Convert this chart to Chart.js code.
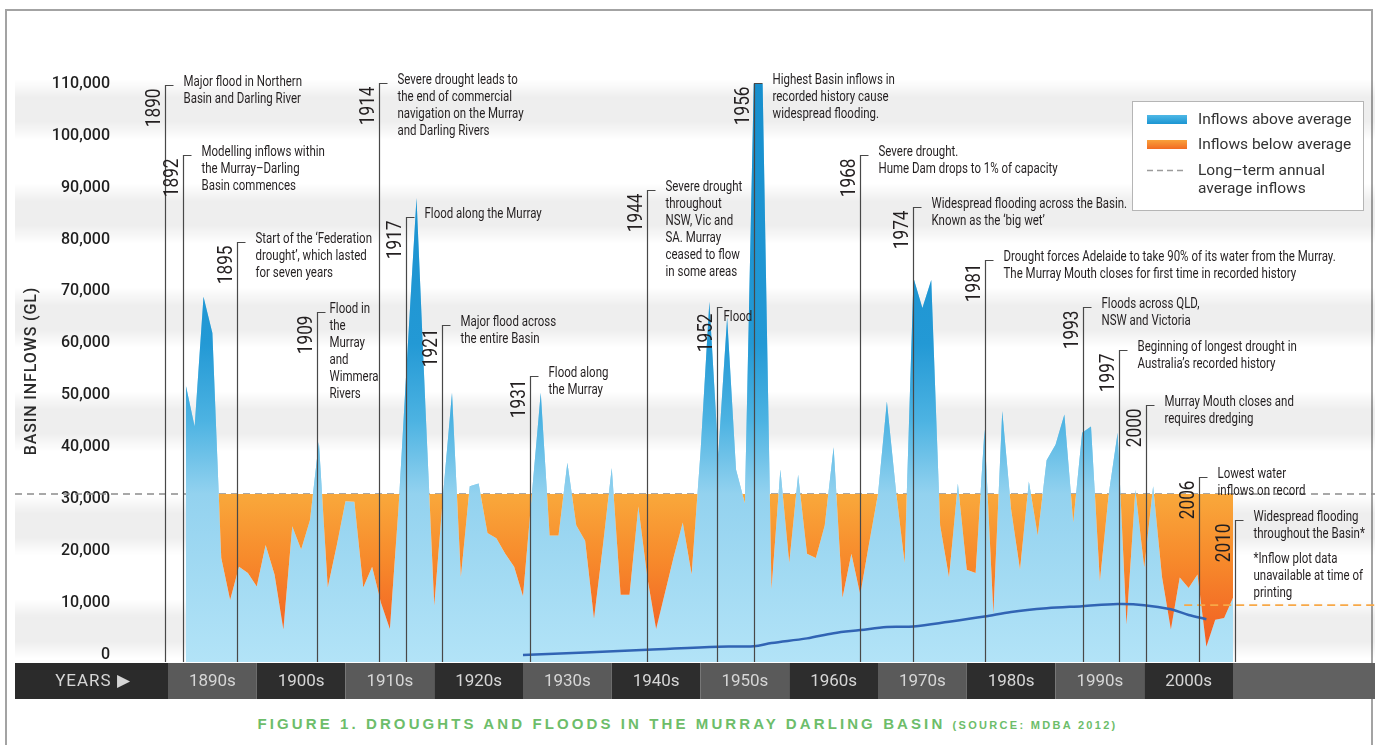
<!DOCTYPE html>
<html>
<head>
<meta charset="utf-8">
<title>Droughts and floods in the Murray Darling Basin</title>
<script src="https://cdn.jsdelivr.net/npm/chart.js@4.4.1/dist/chart.umd.min.js"></script>
<style>
  html, body { margin: 0; padding: 0; background: #fff; }
  body { width: 1375px; height: 745px; position: relative; overflow: hidden; }
  .frame { position: absolute; left: 5px; top: 9px; width: 1364px; height: 745px; border: 2px solid #a3a3a3; border-bottom: none; }
  #chart { position: absolute; left: 0; top: 0; }
  .caption { position: absolute; left: 0; top: 714px; width: 1375px; text-align: center; color: #6dbd6a;
    font: bold 15px "Liberation Sans", Arial, sans-serif; letter-spacing: 3.1px; line-height: 20px; }
  .caption small { font-size: 11px; letter-spacing: 2.3px; }
</style>
</head>
<body>
<div class="frame"></div>
<canvas id="chart" width="1375" height="700"></canvas>
<div class="caption">FIGURE 1. DROUGHTS AND FLOODS IN THE MURRAY DARLING BASIN <small>(SOURCE: MDBA 2012)</small></div>

<script>
// Basin inflows (GL), one value per year
const inflowYears = [
  1892, 1893, 1894, 1895, 1896, 1897, 1898, 1899,
  1900, 1901, 1902, 1903, 1904, 1905, 1906, 1907, 1908, 1909,
  1910, 1911, 1912, 1913, 1914, 1915, 1916, 1917, 1918, 1919,
  1920, 1921, 1922, 1923, 1924, 1925, 1926, 1927, 1928, 1929,
  1930, 1931, 1932, 1933, 1934, 1935, 1936, 1937, 1938, 1939,
  1940, 1941, 1942, 1943, 1944, 1945, 1946, 1947, 1948, 1949,
  1950, 1951, 1952, 1953, 1954, 1955, 1956, 1957, 1958, 1959,
  1960, 1961, 1962, 1963, 1964, 1965, 1966, 1967, 1968, 1969,
  1970, 1971, 1972, 1973, 1974, 1975, 1976, 1977, 1978, 1979,
  1980, 1981, 1982, 1983, 1984, 1985, 1986, 1987, 1988, 1989,
  1990, 1991, 1992, 1993, 1994, 1995, 1996, 1997, 1998, 1999,
  2000, 2001, 2002, 2003, 2004, 2005, 2006, 2007, 2008, 2009, 2010
];
const inflows = [
  52000, 44000, 69000, 62000, 18700, 10600, 17000, 15800,
  13200, 21200, 15500, 4900, 24800, 20300, 26000, 41000, 13000, 21000,
  29600, 29500, 13000, 17000, 10000, 5000, 29000, 59000, 88000, 48000,
  9500, 31000, 50500, 15000, 32500, 33000, 23500, 22500, 19500, 17000,
  11300, 31000, 50500, 23000, 23000, 37000, 25000, 22000, 7000, 21000,
  36000, 11600, 11600, 28600, 15000, 5000, 12000, 19000, 25500, 15500,
  39000, 68000, 38600, 65000, 35700, 29200, 110000, 110000, 12600, 35700,
  17700, 34700, 19500, 18700, 25000, 40000, 11000, 19500, 11600, 21500,
  31000, 48800, 32000, 17700, 72600, 66800, 72200, 25000, 14900, 33000,
  16400, 15800, 43400, 8000, 47000, 28000, 16400, 33400, 23000, 37500,
  40500, 46300, 25500, 42800, 44000, 14200, 31000, 42800, 5800, 31800,
  16800, 32500, 15000, 4900, 14900, 12900, 15500, 1600, 6800, 7100, 11000
];

// dark blue line along the bottom
const lowerYears = [1930, 1944, 1952, 1956, 1958, 1962, 1965, 1968, 1971, 1974,
  1978, 1982, 1985, 1989, 1993, 1997, 2000, 2003, 2005, 2007];
const lowerValues = [0, 1000, 1600, 1700, 2300, 3200, 4200, 4800, 5400, 5500,
  6400, 7400, 8300, 9000, 9400, 9800, 9600, 8800, 7700, 6900];

const avgInflow = 31000;
const recentLevel = 9600;
const recentFrom = 2004.5;

const yTicks = [0, 10000, 20000, 30000, 40000, 50000, 60000, 70000, 80000, 90000, 100000, 110000];
const decades = ['1890s', '1900s', '1910s', '1920s', '1930s', '1940s', '1950s', '1960s', '1970s', '1980s', '1990s', '2000s'];
const decadeStarts = [1890, 1900, 1910, 1920, 1930, 1940, 1950, 1960, 1970, 1980, 1990, 2000, 2010];

// events marked on the chart
const eventYears = ['1890', '1892', '1895', '1909', '1914', '1917', '1921', '1931', '1944', '1952',
  '1956', '1968', '1974', '1981', '1993', '1997', '2000', '2006', '2010'];
const eventAt = [1889.7, 1891.7, 1897.8, 1906.8, 1913.8, 1916.8, 1920.9, 1930.8, 1944, 1951.9,
  1956, 1968, 1973.9, 1982.1, 1993.1, 1997.2, 2000.2, 2006.2, 2010.2];
const eventTop = [109800, 96300, 79600, 66100, 110200, 84400, 63600, 53700, 89600, 67100,
  110200, 96300, 86300, 76100, 67100, 58800, 48200, 34300, 26000];
const eventText = [
  ['Major flood in Northern', 'Basin and Darling River'],
  ['Modelling inflows within', 'the Murray\u2013Darling', 'Basin commences'],
  ['Start of the \u2018Federation', 'drought\u2019, which lasted', 'for seven years'],
  ['Flood in', 'the', 'Murray', 'and', 'Wimmera', 'Rivers'],
  ['Severe drought leads to', 'the end of commercial', 'navigation on the Murray', 'and Darling Rivers'],
  ['Flood along the Murray'],
  ['Major flood across', 'the entire Basin'],
  ['Flood along', 'the Murray'],
  ['Severe drought', 'throughout', 'NSW, Vic and', 'SA. Murray', 'ceased to flow', 'in some areas'],
  ['Flood'],
  ['Highest Basin inflows in', 'recorded history cause', 'widespread flooding.'],
  ['Severe drought.', 'Hume Dam drops to 1% of capacity'],
  ['Widespread flooding across the Basin.', 'Known as the \u2018big wet\u2019'],
  ['Drought forces Adelaide to take 90% of its water from the Murray.', 'The Murray Mouth closes for first time in recorded history'],
  ['Floods across QLD,', 'NSW and Victoria'],
  ['Beginning of longest drought in', 'Australia\u2019s recorded history'],
  ['Murray Mouth closes and', 'requires dredging'],
  ['Lowest water', 'inflows on record'],
  ['Widespread flooding', 'throughout the Basin*']
];
const footNote = ['*Inflow plot data', 'unavailable at time of', 'printing'];

// gap between marker line and its note (px); a few notes sit closer
const noteGap = { '1909': 12, '1952': 6 };

const DIN = 'Roboto, "Noto Sans", sans-serif';

function vGrad(chart, stops) {
    const ys = chart.scales.y;
    const y0 = ys.getPixelForValue(stops[0][0]);
    const y1 = ys.getPixelForValue(stops[stops.length - 1][0]);
    const g = chart.ctx.createLinearGradient(0, y0, 0, y1);
    stops.forEach(s => {
        g.addColorStop((ys.getPixelForValue(s[0]) - y0) / (y1 - y0), s[1]);
    });
    return g;
}

// condensed text: squeeze along the writing direction
function narrowText(ctx, text, x, y, sx) {
    ctx.save();
    ctx.translate(x, y);
    ctx.scale(sx, 1);
    ctx.fillText(text, 0, 0);
    ctx.restore();
}

const backdrop = {
    id: 'backdrop',
    beforeDraw(chart) {
        const {ctx, chartArea, scales: {x, y}} = chart;
        ctx.save();
        // soft grey bands
        for (let v = 0; v <= 100000; v += 20000) {
            const top = y.getPixelForValue(v + 10000), bot = y.getPixelForValue(v);
            const g = ctx.createLinearGradient(0, top - 4, 0, bot + 4);
            g.addColorStop(0, 'rgba(0,0,0,0)');
            g.addColorStop(0.3, 'rgba(0,0,0,0.065)');
            g.addColorStop(0.7, 'rgba(0,0,0,0.065)');
            g.addColorStop(1, 'rgba(0,0,0,0)');
            ctx.fillStyle = g;
            ctx.fillRect(15, top - 4, 1360, bot - top + 8);
        }
        // years bar
        const barTop = chartArea.bottom + 1, barH = 36;
        ctx.fillStyle = '#2b2b2b';
        ctx.fillRect(15, barTop, chartArea.left - 15, barH);
        for (let i = 0; i < decadeStarts.length - 1; i++) {
            const a = x.getPixelForValue(decadeStarts[i]), b = x.getPixelForValue(decadeStarts[i + 1]);
            ctx.fillStyle = i % 2 === 0 ? '#5a5a5a' : '#2d2d2d';
            ctx.fillRect(a, barTop, b - a, barH);
        }
        const end = x.getPixelForValue(decadeStarts[decadeStarts.length - 1]);
        ctx.fillStyle = '#616161';
        ctx.fillRect(end, barTop, 1375 - end, barH);

        ctx.fillStyle = '#d6d6d6';
        ctx.font = '17px ' + DIN;
        ctx.textAlign = 'center';
        ctx.textBaseline = 'middle';
        decades.forEach((d, i) => {
            ctx.fillText(d, x.getPixelForValue(decadeStarts[i] + 5), barTop + barH / 2 + 1);
        });
        ctx.letterSpacing = '1px';
        ctx.fillText('YEARS \u25B6', 93, barTop + barH / 2 + 1);
        ctx.restore();
    },
    beforeDatasetsDraw(chart) {
        const {ctx, scales: {y}} = chart;
        const py = y.getPixelForValue(avgInflow);
        ctx.save();
        ctx.strokeStyle = '#8c8c8c';
        ctx.lineWidth = 1.5;
        ctx.setLineDash([7, 5]);
        ctx.beginPath();
        ctx.moveTo(15, py);
        ctx.lineTo(1375, py);
        ctx.stroke();
        ctx.restore();
    },
    afterDatasetsDraw(chart) {
        const {ctx, chartArea, scales: {x, y}} = chart;
        ctx.save();
        // recent level marker
        const ry = y.getPixelForValue(recentLevel);
        ctx.strokeStyle = '#f7a847';
        ctx.lineWidth = 1.6;
        ctx.setLineDash([8, 5]);
        ctx.beginPath();
        ctx.moveTo(x.getPixelForValue(recentFrom), ry);
        ctx.lineTo(1375, ry);
        ctx.stroke();
        ctx.setLineDash([]);

        // event markers
        eventYears.forEach((label, i) => {
            const px = Math.round(x.getPixelForValue(eventAt[i])) + 0.5;
            const top = Math.round(y.getPixelForValue(eventTop[i])) + 0.5;
            const tight = label === '1952';
            ctx.strokeStyle = '#484848';
            ctx.lineWidth = 1.2;
            ctx.beginPath();
            ctx.moveTo(px, chartArea.bottom);
            ctx.lineTo(px, top);
            ctx.lineTo(px + (tight ? 5 : 8), top);
            ctx.stroke();

            ctx.fillStyle = '#231f20';
            ctx.save();
            ctx.translate(px - 1, top + (tight ? 6 : 3));
            ctx.rotate(-Math.PI / 2);
            ctx.font = '20px ' + DIN;
            ctx.textAlign = 'right';
            ctx.textBaseline = 'bottom';
            narrowText(ctx, label, 0, 0, 0.86);
            ctx.restore();

            ctx.font = '14px ' + DIN;
            ctx.textAlign = 'left';
            ctx.textBaseline = 'middle';
            const tx = px + (noteGap[label] || 18);
            const ty = top + (tight ? 10 : -3);
            eventText[i].forEach((line, j) => narrowText(ctx, line, tx, ty + j * 17, 0.82));
            if (i === eventYears.length - 1) {
                footNote.forEach((line, j) => narrowText(ctx, line, tx, ty + 42 + j * 17, 0.82));
            }
        });
        ctx.restore();
    },
    afterDraw(chart) {
        const {ctx} = chart;
        ctx.save();
        // y axis title
        ctx.translate(32, 371);
        ctx.rotate(-Math.PI / 2);
        ctx.font = '500 16px ' + DIN;
        ctx.letterSpacing = '0.9px';
        ctx.fillStyle = '#2a2a2a';
        ctx.textAlign = 'center';
        ctx.textBaseline = 'middle';
        ctx.fillText('BASIN INFLOWS (GL)', 0, 0);
        ctx.restore();

        // legend box
        ctx.save();
        ctx.fillStyle = '#fff';
        ctx.strokeStyle = '#b5b5b5';
        ctx.lineWidth = 1;
        ctx.fillRect(1132, 101, 231, 109);
        ctx.strokeRect(1132.5, 101.5, 231, 109);
        let g = ctx.createLinearGradient(0, 115, 0, 124);
        g.addColorStop(0, '#4fb8e6');
        g.addColorStop(1, '#1b95d2');
        ctx.fillStyle = g;
        ctx.fillRect(1147, 115, 40, 9);
        g = ctx.createLinearGradient(0, 140, 0, 149);
        g.addColorStop(0, '#f9a13b');
        g.addColorStop(1, '#f26b22');
        ctx.fillStyle = g;
        ctx.fillRect(1147, 140, 40, 9);
        ctx.strokeStyle = '#9c9c9c';
        ctx.lineWidth = 1.3;
        ctx.setLineDash([6, 4]);
        ctx.beginPath();
        ctx.moveTo(1147, 170.5);
        ctx.lineTo(1187, 170.5);
        ctx.stroke();
        ctx.fillStyle = '#333';
        ctx.font = '15.5px ' + DIN;
        ctx.letterSpacing = '0px';
        ctx.textAlign = 'left';
        ctx.textBaseline = 'middle';
        ctx.fillText('Inflows above average', 1198, 120);
        ctx.fillText('Inflows below average', 1198, 145);
        ctx.fillText('Long\u2013term annual', 1198, 171);
        ctx.fillText('average inflows', 1198, 189);
        ctx.restore();
    }
};

const points = inflowYears.map((yr, i) => ({x: yr, y: inflows[i]}));

new Chart(document.getElementById('chart'), {
    type: 'line',
    data: {
        datasets: [
            {
                label: 'Basin inflows',
                data: points,
                order: 3,
                borderWidth: 0,
                pointRadius: 0,
                fill: 'start',
                backgroundColor: ctx => ctx.chart.chartArea
                    ? vGrad(ctx.chart, [[avgInflow, '#93d2ef'], [-1000, '#b2e3f7']])
                    : '#a4dbf3'
            },
            {
                label: 'Inflows above / below average',
                data: points,
                order: 2,
                borderWidth: 0,
                pointRadius: 0,
                backgroundColor: 'rgba(0,0,0,0)',
                fill: ctx => {
                    const c = ctx.chart;
                    if (!c.chartArea) return {target: {value: avgInflow}, above: '#3aaee0', below: '#f7941d'};
                    return {
                        target: {value: avgInflow},
                        above: vGrad(c, [[112000, '#168ecd'], [60000, '#2399d5'], [45000, '#4db3e2'], [avgInflow, '#93d2ef']]),
                        below: vGrad(c, [[avgInflow, '#f9a83b'], [18000, '#f7892b'], [0, '#f05822']])
                    };
                }
            },
            {
                label: 'Lower line',
                data: lowerYears.map((yr, i) => ({x: yr, y: lowerValues[i]})),
                order: 1,
                borderColor: '#3164b4',
                borderWidth: 2.5,
                pointRadius: 0,
                tension: 0.35,
                fill: false
            }
        ]
    },
    options: {
        responsive: false,
        animation: false,
        layout: { padding: { top: 63, left: 0, right: 0, bottom: 38 } },
        plugins: {
            legend: { display: false },
            tooltip: { enabled: false }
        },
        scales: {
            x: {
                type: 'linear',
                display: false,
                min: 1890,
                max: 2026
            },
            y: {
                min: -1350,
                max: 114000,
                grid: { display: false, drawTicks: false },
                border: { display: false },
                afterBuildTicks: s => { s.ticks = yTicks.map(v => ({value: v})); },
                afterFit: s => {
                    s.width = 168;
                    // the label gap should not push the plot area in
                    s.paddingTop = 0;
                    s.paddingBottom = 0;
                },
                ticks: {
                    padding: 58,
                    color: '#1f1f1f',
                    font: { family: DIN, size: 16, weight: '500' },
                    callback: v => v.toLocaleString('en-US')
                }
            }
        }
    },
    plugins: [backdrop]
});
</script>
</body>
</html>
